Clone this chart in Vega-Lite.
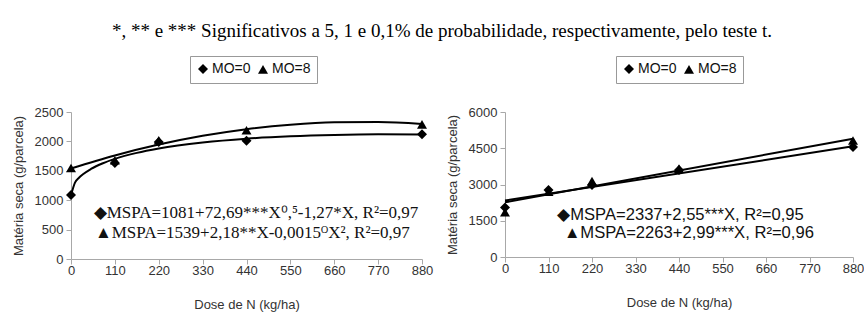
{
  "$schema": "https://vega.github.io/schema/vega-lite/v6.json",
  "background": "white",
  "padding": {"left": 12, "top": 21, "right": 0, "bottom": 4},
  "title": {
    "text": "*, ** e *** Significativos a 5, 1 e 0,1% de probabilidade, respectivamente, pelo teste t.",
    "font": "Liberation Serif", "fontSize": 19, "fontWeight": "normal", "color": "#000",
    "anchor": "middle", "offset": 15, "dx": 4
  },
  "datasets": {
    "left": [
      {"kind": "obs", "series": "MO=0", "x": 0, "y": 1088},
      {"kind": "obs", "series": "MO=0", "x": 110, "y": 1633},
      {"kind": "obs", "series": "MO=0", "x": 220, "y": 1990},
      {"kind": "obs", "series": "MO=0", "x": 440, "y": 2010},
      {"kind": "obs", "series": "MO=0", "x": 880, "y": 2120},
      {"kind": "obs", "series": "MO=8", "x": 0, "y": 1548},
      {"kind": "obs", "series": "MO=8", "x": 110, "y": 1680},
      {"kind": "obs", "series": "MO=8", "x": 220, "y": 2020},
      {"kind": "obs", "series": "MO=8", "x": 440, "y": 2190},
      {"kind": "obs", "series": "MO=8", "x": 880, "y": 2290},
      {"kind": "fit", "series": "MO=0", "x": 0, "y": 1081},
      {"kind": "fit", "series": "MO=0", "x": 10, "y": 1298},
      {"kind": "fit", "series": "MO=0", "x": 20, "y": 1381},
      {"kind": "fit", "series": "MO=0", "x": 30, "y": 1441},
      {"kind": "fit", "series": "MO=0", "x": 50, "y": 1531},
      {"kind": "fit", "series": "MO=0", "x": 80, "y": 1629},
      {"kind": "fit", "series": "MO=0", "x": 110, "y": 1703},
      {"kind": "fit", "series": "MO=0", "x": 165, "y": 1805},
      {"kind": "fit", "series": "MO=0", "x": 220, "y": 1880},
      {"kind": "fit", "series": "MO=0", "x": 330, "y": 1982},
      {"kind": "fit", "series": "MO=0", "x": 440, "y": 2047},
      {"kind": "fit", "series": "MO=0", "x": 550, "y": 2087},
      {"kind": "fit", "series": "MO=0", "x": 660, "y": 2110},
      {"kind": "fit", "series": "MO=0", "x": 770, "y": 2120},
      {"kind": "fit", "series": "MO=0", "x": 880, "y": 2119},
      {"kind": "fit", "series": "MO=8", "x": 0, "y": 1539},
      {"kind": "fit", "series": "MO=8", "x": 110, "y": 1761},
      {"kind": "fit", "series": "MO=8", "x": 220, "y": 1946},
      {"kind": "fit", "series": "MO=8", "x": 330, "y": 2095},
      {"kind": "fit", "series": "MO=8", "x": 440, "y": 2208},
      {"kind": "fit", "series": "MO=8", "x": 550, "y": 2284},
      {"kind": "fit", "series": "MO=8", "x": 660, "y": 2324},
      {"kind": "fit", "series": "MO=8", "x": 770, "y": 2328},
      {"kind": "fit", "series": "MO=8", "x": 880, "y": 2296}
    ],
    "leftText": [
      {"label": "◆MSPA=1081+72,69***X⁰,⁵-1,27*X,  R²=0,97", "x": 57, "y": 782},
      {"label": "▲MSPA=1539+2,18**X-0,0015ᴼX²,  R²=0,97", "x": 60, "y": 442}
    ],
    "right": [
      {"kind": "obs", "series": "MO=0", "x": 0, "y": 2050},
      {"kind": "obs", "series": "MO=0", "x": 110, "y": 2770},
      {"kind": "obs", "series": "MO=0", "x": 220, "y": 2980},
      {"kind": "obs", "series": "MO=0", "x": 440, "y": 3600},
      {"kind": "obs", "series": "MO=0", "x": 880, "y": 4550},
      {"kind": "obs", "series": "MO=8", "x": 0, "y": 1850},
      {"kind": "obs", "series": "MO=8", "x": 110, "y": 2700},
      {"kind": "obs", "series": "MO=8", "x": 220, "y": 3140},
      {"kind": "obs", "series": "MO=8", "x": 440, "y": 3660},
      {"kind": "obs", "series": "MO=8", "x": 880, "y": 4820},
      {"kind": "fit", "series": "MO=0", "x": 0, "y": 2337},
      {"kind": "fit", "series": "MO=0", "x": 880, "y": 4581},
      {"kind": "fit", "series": "MO=8", "x": 0, "y": 2263},
      {"kind": "fit", "series": "MO=8", "x": 880, "y": 4894}
    ],
    "rightText": [
      {"label": "◆MSPA=2337+2,55***X,  R²=0,95", "x": 132, "y": 1738},
      {"label": "▲MSPA=2263+2,99***X,  R²=0,96", "x": 149, "y": 993}
    ]
  },
  "hconcat": [
    {
      "width": 351, "height": 147,
      "layer": [
        {
          "data": {"name": "left"},
          "transform": [{"filter": "datum.kind == 'fit'"}],
          "mark": {"type": "line", "color": "#000", "strokeWidth": 2, "interpolate": "monotone"},
          "encoding": {
            "x": {"field": "x", "type": "quantitative", "scale": {"domain": [0, 880], "nice": false},
              "axis": {"values": [0, 110, 220, 330, 440, 550, 660, 770, 880], "title": "Dose de N (kg/ha)", "labelOverlap": false, "labelFlush": false, "format": "d"}},
            "y": {"field": "y", "type": "quantitative", "scale": {"domain": [0, 2500], "nice": false},
              "axis": {"values": [0, 500, 1000, 1500, 2000, 2500], "tickCount": 6, "title": "Matéria seca (g/parcela)", "labelOverlap": false, "format": "d"}},
            "detail": {"field": "series"}
          }
        },
        {
          "data": {"name": "left"},
          "transform": [{"filter": "datum.kind == 'obs'"}],
          "mark": {"type": "point", "filled": true, "color": "#000", "size": 100, "opacity": 1},
          "encoding": {
            "x": {"field": "x", "type": "quantitative"},
            "y": {"field": "y", "type": "quantitative"},
            "shape": {"field": "series", "type": "nominal",
              "scale": {"domain": ["MO=0", "MO=8"], "range": ["diamond", "triangle-up"]},
              "legend": {"orient": "none", "legendX": 119, "legendY": -56, "direction": "horizontal", "title": null}}
          }
        },
        {
          "data": {"name": "leftText"},
          "mark": {"type": "text", "align": "left", "baseline": "middle", "font": "Liberation Serif", "fontSize": 17, "color": "#111"},
          "encoding": {
            "x": {"field": "x", "type": "quantitative"},
            "y": {"field": "y", "type": "quantitative"},
            "text": {"field": "label"}
          }
        }
      ]
    },
    {
      "width": 348, "height": 145,
      "layer": [
        {
          "data": {"name": "right"},
          "transform": [{"filter": "datum.kind == 'fit'"}],
          "mark": {"type": "line", "color": "#000", "strokeWidth": 2},
          "encoding": {
            "x": {"field": "x", "type": "quantitative", "scale": {"domain": [0, 880], "nice": false},
              "axis": {"values": [0, 110, 220, 330, 440, 550, 660, 770, 880], "title": "Dose de N (kg/ha)", "labelOverlap": false, "labelFlush": false, "format": "d"}},
            "y": {"field": "y", "type": "quantitative", "scale": {"domain": [0, 6000], "nice": false},
              "axis": {"values": [0, 1500, 3000, 4500, 6000], "tickCount": 5, "title": "Matéria seca (g/parcela)", "labelOverlap": false, "format": "d"}},
            "detail": {"field": "series"}
          }
        },
        {
          "data": {"name": "right"},
          "transform": [{"filter": "datum.kind == 'obs'"}],
          "mark": {"type": "point", "filled": true, "color": "#000", "size": 100, "opacity": 1},
          "encoding": {
            "x": {"field": "x", "type": "quantitative"},
            "y": {"field": "y", "type": "quantitative"},
            "shape": {"field": "series", "type": "nominal",
              "scale": {"domain": ["MO=0", "MO=8"], "range": ["diamond", "triangle-up"]},
              "legend": {"orient": "none", "legendX": 111, "legendY": -56, "direction": "horizontal", "title": null}}
          }
        },
        {
          "data": {"name": "rightText"},
          "mark": {"type": "text", "align": "left", "baseline": "middle", "font": "Liberation Sans", "fontSize": 16.6, "color": "#111"},
          "encoding": {
            "x": {"field": "x", "type": "quantitative"},
            "y": {"field": "y", "type": "quantitative"},
            "text": {"field": "label"}
          }
        }
      ]
    }
  ],
  "spacing": 83,
  "bounds": "flush",
  "resolve": {"scale": {"y": "independent", "x": "independent", "shape": "independent"}, "legend": {"shape": "independent"}},
  "config": {
    "view": {"stroke": null},
    "axis": {
      "grid": false,
      "domainColor": "#a8a8a8", "tickColor": "#a8a8a8", "tickSize": 5,
      "labelFont": "Liberation Sans", "labelFontSize": 13, "labelColor": "#333", "labelPadding": 3,
      "titleFont": "Liberation Sans", "titleFontSize": 13, "titleFontWeight": "normal", "titleColor": "#333"
    },
    "axisX": {"titlePadding": 21, "labelPadding": 0},
    "axisY": {"titlePadding": 9},
    "legend": {
      "strokeColor": "#999", "padding": 6, "fillColor": "white",
      "labelFont": "Liberation Sans", "labelFontSize": 14, "labelColor": "#111",
      "symbolSize": 100, "symbolFillColor": "#000", "symbolStrokeColor": "#000", "columnPadding": 4, "labelOffset": 2
    }
  }
}
